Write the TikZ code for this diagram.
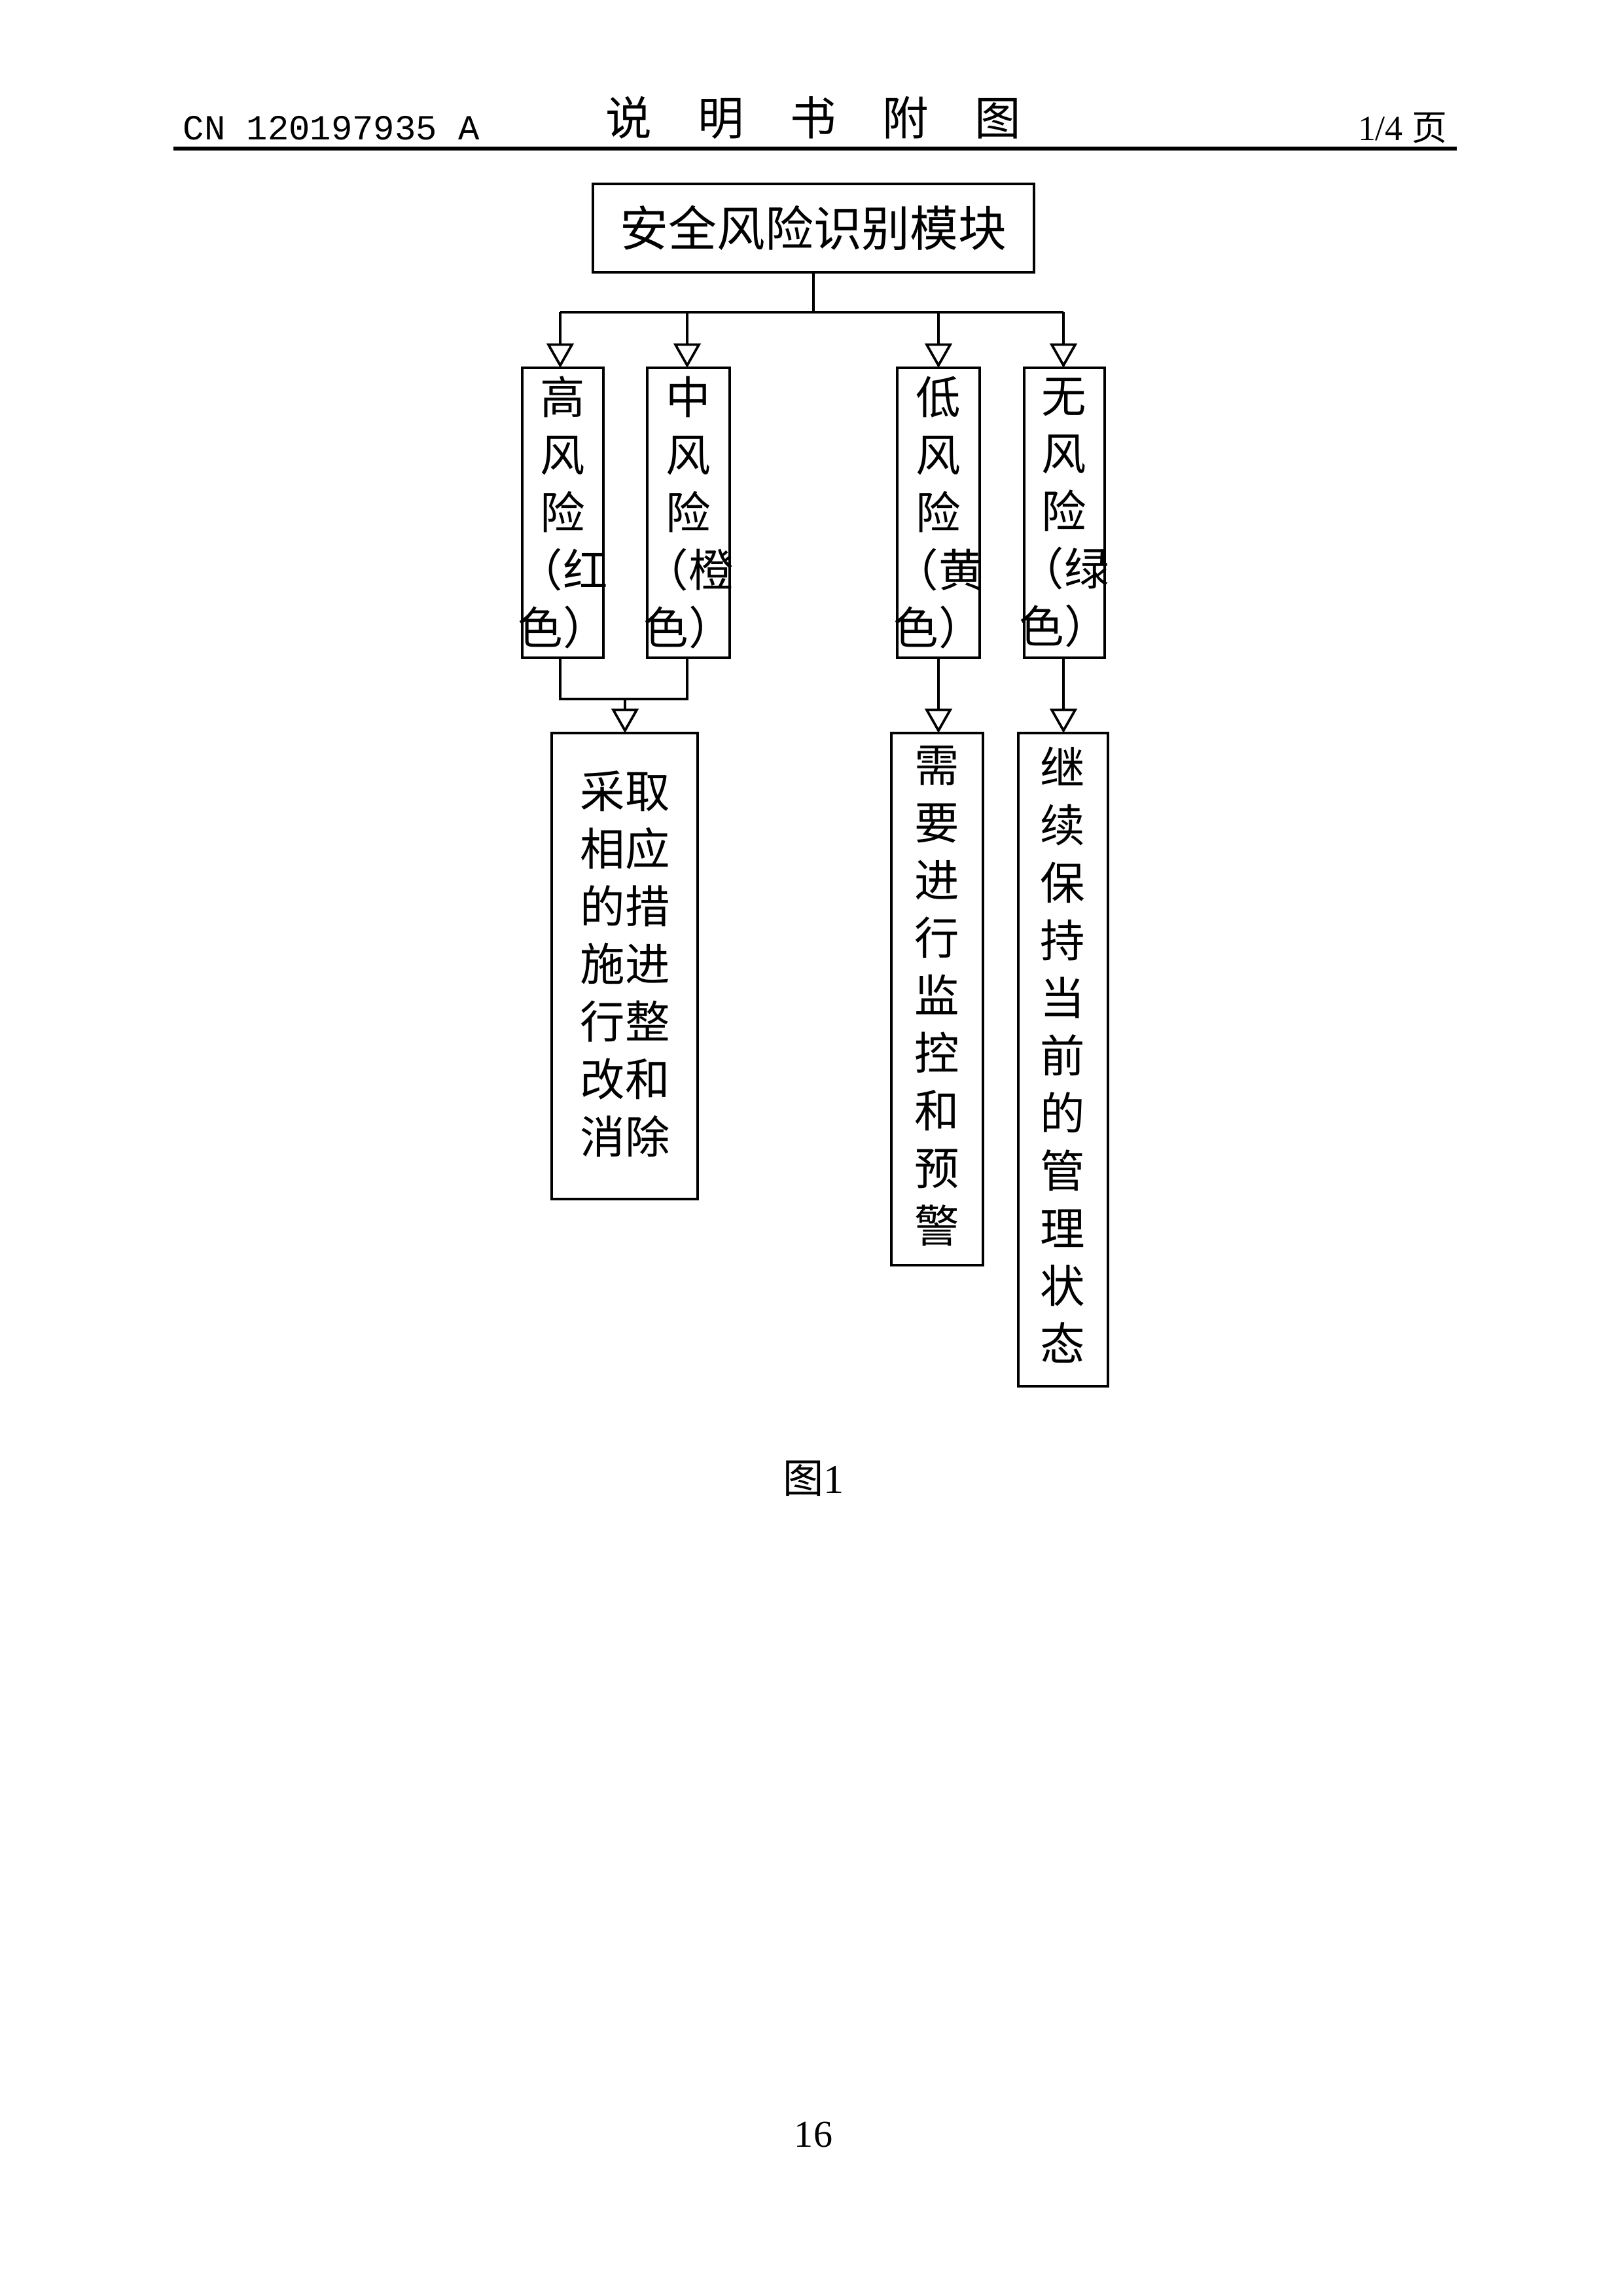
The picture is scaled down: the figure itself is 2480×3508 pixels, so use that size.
\documentclass[tikz,border=0pt]{standalone}
\usepackage{fontspec}
\setmainfont{Liberation Serif}
\newfontfamily\cjk{Noto Sans CJK SC}
\newfontfamily\mono{Liberation Mono}
\usetikzlibrary{arrows.meta}
\begin{document}
\begin{tikzpicture}[x=0.0847mm,y=-0.0847mm,
  box/.style={draw,line width=0.9pt,inner sep=0pt},
  vt/.style={font=\cjk\fontsize{16.5}{21.2}\selectfont,align=center,inner sep=0pt},
  ln/.style={line width=0.9pt},
  arr/.style={ln,-{Triangle[open,length=9pt,width=10pt]}}]
\useasboundingbox (0,0) rectangle (2480,3508);
% header
\node[anchor=west,font=\mono\fontsize{13}{15}\selectfont] (hl) at (265,196) {CN 120197935 A};
\node[font=\cjk\fontsize{17}{20}\selectfont] (ht) at (1243,180) {说\hspace{1em}明\hspace{1em}书\hspace{1em}附\hspace{1em}图};
\node[anchor=east,font=\fontsize{13}{15}\selectfont] (hr) at (2226,196) {1/4 {\cjk 页}};
\coordinate (la) at (265,227); \coordinate (lb) at (2226,227);
\draw[line width=1.6pt] (la) -- (lb);
% top
\draw[box] (906,281) rectangle (1580,416);
\node[font=\cjk\fontsize{17.8}{20}\selectfont] (top) at (1243,348) {安全风险识别模块};
\coordinate (t0) at (1243,416); \coordinate (t1) at (1243,477);
\coordinate (j1) at (856,477); \coordinate (j2) at (1050,477); \coordinate (j3) at (1434,477); \coordinate (j4) at (1625,477);
\draw[ln] (t0) -- (t1); \draw[ln] (j1) -- (j4);
% level boxes
\draw[box] (798,562) rectangle (922,1005);
\draw[box] (989,562) rectangle (1115,1005);
\draw[box] (1371,562) rectangle (1497,1005);
\draw[box] (1565,562) rectangle (1688,1005);
\node[vt] (h) at (860,783) {高\\风\\险\\（红\\色）};
\node[vt] (m) at (1052,783) {中\\风\\险\\（橙\\色）};
\node[vt] (l) at (1434,783) {低\\风\\险\\（黄\\色）};
\node[vt] (n) at (1626,783) {无\\风\\险\\（绿\\色）};
\coordinate (a1) at (856,562); \coordinate (a2) at (1050,562); \coordinate (a3) at (1434,562); \coordinate (a4) at (1625,562);
\draw[arr] (j1) -- (a1); \draw[arr] (j2) -- (a2); \draw[arr] (j3) -- (a3); \draw[arr] (j4) -- (a4);
% merge
\coordinate (hb) at (856,1005); \coordinate (mb) at (1050,1005);
\coordinate (hm) at (856,1068); \coordinate (mm) at (1050,1068); \coordinate (c0) at (955,1068); \coordinate (c1) at (955,1120);
\draw[ln] (hb) -- (hm) -- (mm) -- (mb);
\draw[arr] (c0) -- (c1);
\coordinate (lb1) at (1434,1005); \coordinate (lb2) at (1434,1120);
\coordinate (nb1) at (1625,1005); \coordinate (nb2) at (1625,1120);
\draw[arr] (lb1) -- (lb2); \draw[arr] (nb1) -- (nb2);
% result boxes
\draw[box] (843,1120) rectangle (1066,1832);
\draw[box] (1362,1120) rectangle (1502,1933);
\draw[box] (1556,1120) rectangle (1693,2118);
\node[vt] (r1) at (955,1473) {采取\\相应\\的措\\施进\\行整\\改和\\消除};
\node[vt] (r2) at (1432,1522) {需\\要\\进\\行\\监\\控\\和\\预\\警};
\node[vt] (r3) at (1624,1612) {继\\续\\保\\持\\当\\前\\的\\管\\理\\状\\态};
% captions
\node[font=\fontsize{15}{18}\selectfont] (fig) at (1243,2259) {{\cjk 图}1};
\node[font=\fontsize{14}{16}\selectfont] (pg) at (1243,3262) {16};
\end{tikzpicture}
\end{document}
